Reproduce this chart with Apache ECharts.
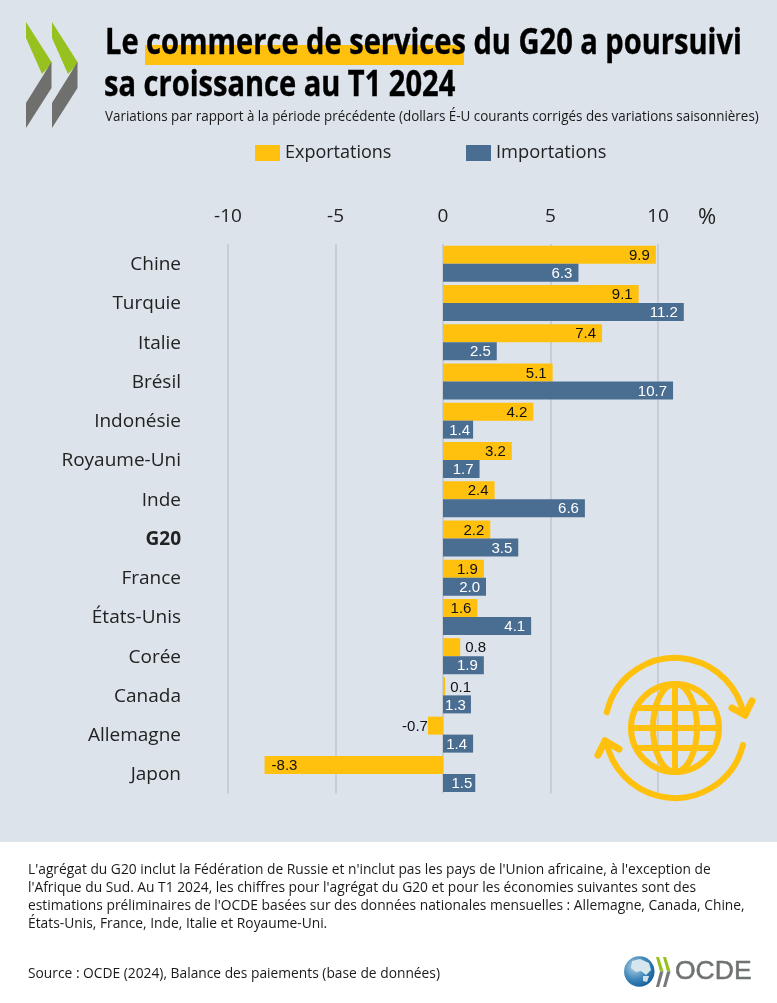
<!DOCTYPE html>
<html><head><meta charset="utf-8">
<style>html,body{margin:0;padding:0;background:#fff}#c{width:777px;height:1003px}</style>
<script src="https://cdn.jsdelivr.net/npm/echarts@6/dist/echarts.min.js"></script>
</head><body><div id="c"></div>
<script>
const categories=['Chine','Turquie','Italie','Brésil','Indonésie','Royaume-Uni','Inde','G20','France','États-Unis','Corée','Canada','Allemagne','Japon'];
const exportsData=[9.9,9.1,7.4,5.1,4.2,3.2,2.4,2.2,1.9,1.6,0.8,0.1,-0.7,-8.3];
const importsData=[6.3,11.2,2.5,10.7,1.4,1.7,6.6,3.5,2.0,4.1,1.9,1.3,1.4,1.5];
const titleLines=['Le commerce de services du G20 a poursuivi','sa croissance au T1 2024'];
const subtitle='Variations par rapport à la période précédente (dollars É-U courants corrigés des variations saisonnières)';
const noteLines=["L'agrégat du G20 inclut la Fédération de Russie et n'inclut pas les pays de l'Union africaine, à l'exception de","l'Afrique du Sud. Au T1 2024, les chiffres pour l'agrégat du G20 et pour les économies suivantes sont des","estimations préliminaires de l'OCDE basées sur des données nationales mensuelles : Allemagne, Canada, Chine,","États-Unis, France, Inde, Italie et Royaume-Uni."];
const sourceText='Source : OCDE (2024), Balance des paiements (base de données)';

const YEL='#FFC00E',BLU='#4A6D92',BG='#DCE3EB';
const F='"Open Sans"';
const chart=echarts.init(document.getElementById('c'),null,{renderer:'canvas'});

function txt(x,y,text,size,opts){opts=opts||{};const st={text:text,fontFamily:opts.f||F,fontSize:size,fontWeight:opts.w||'normal',fill:opts.c||'#1a1a1a',textVerticalAlign:'middle',textAlign:opts.a||'left'};if(opts.stroke){st.stroke=opts.c;st.lineWidth=opts.stroke;}return {type:'text',x:x,y:y,scaleX:opts.sx||1,z:opts.z||10,style:st};}
function poly(pts,fill,z){return {type:'polygon',z:z||5,shape:{points:pts},style:{fill:fill}};}
function arc(cx,cy,r,a0,a1,w){return {type:'arc',z:6,shape:{cx:cx,cy:cy,r:r,startAngle:a0*Math.PI/180,endAngle:a1*Math.PI/180,clockwise:true},style:{stroke:YEL,lineWidth:w,fill:null,lineCap:'round'}};}
function line(x1,y1,x2,y2,w){return {type:'line',z:6,shape:{x1:x1,y1:y1,x2:x2,y2:y2},style:{stroke:YEL,lineWidth:w,lineCap:'round'}};}
const gx=675,gy=729;
const icon=[
 {type:'circle',z:6,shape:{cx:gx,cy:gy-1,r:44},style:{stroke:YEL,lineWidth:6,fill:null}},
 {type:'ellipse',z:6,shape:{cx:gx,cy:gy-1,rx:22,ry:44},style:{stroke:YEL,lineWidth:6,fill:null}},
 line(gx,gy-44,gx,gy+42,6),line(gx-43,gy-1,gx+43,gy-1,6),
 line(gx-37,gy-21,gx+37,gy-21,6),line(gx-37,gy+19,gx+37,gy+19,6),
 arc(gx,gy-1,70,193,349,6),arc(gx,gy-1,70,14,169,6),
 line(732,708,745,715,7),line(745,715,752,701,7),
 line(619,749,605,741,7),line(605,741,598,755,7)
];
const logoGrad=new echarts.graphic.RadialGradient(0.35,0.35,0.75,[{offset:0,color:'#b5d3e6'},{offset:0.55,color:'#3f87b9'},{offset:1,color:'#0f5a96'}]);
const logo=[
 {type:'circle',z:6,shape:{cx:639.3,cy:971.5,r:15.2},style:{fill:logoGrad}},
 poly([[632,961],[640,959],[649,963],[651,970],[646,975],[641,971],[636,972],[631,968]],'#d6e6ef',7),
 poly([[643,976],[649,976],[647,982],[643,981]],'#cfe2ec',7),
 poly([[656,957],[659,957],[663.5,971.5],[660,971.5]],'#96c11f'),
 poly([[663,957],[666,957],[670.5,971.5],[667,971.5]],'#96c11f'),
 poly([[660,971.5],[663.5,971.5],[659,987],[656,987]],'#77787b'),
 poly([[667,971.5],[670.5,971.5],[666,987],[663,987]],'#77787b'),
 txt(675,972,'OCDE',26.5,{f:'"Liberation Sans"',c:'#6f7272',stroke:0.5})
];
function chev(x){return [
 poly([[x,22],[x+25.5,62],[x+25.5,64],[x+16,74],[x,38]],'#96C11F'),
 poly([[x+25.5,62],[x+25.5,88],[x,128],[x,103]],'#6f6f6e')
];}
const graphics=[
 {type:'rect',z:1,shape:{x:145,y:45,width:319,height:20},style:{fill:YEL}},
 txt(105,44,titleLines[0],35,{w:'bold',c:'#000',sx:0.83,z:12,stroke:0.4}),
 txt(104,86,titleLines[1],35,{w:'bold',c:'#000',sx:0.83,z:12,stroke:0.4}),
 txt(105,117,subtitle,14.5,{sx:0.925}),
 txt(698,218,'%',22,{c:'#222'}),
 {type:'rect',z:0,shape:{x:0,y:842,width:777,height:161},style:{fill:'#fff'}},
 txt(28,870,noteLines[0],14,{sx:0.985}),
 txt(28,888,noteLines[1],14,{sx:0.985}),
 txt(28,906,noteLines[2],14,{sx:0.985}),
 txt(28,924,noteLines[3],14,{sx:0.985}),
 txt(28,974,sourceText,14,{sx:0.985})
].concat(chev(26),chev(52),icon,logo);

// per-bar label treatment
const outsideExports={'Corée':{position:'right',distance:5},'Canada':{position:'right',distance:5},'Allemagne':{position:'left',distance:0},'Japon':{position:'insideLeft',distance:7}};
const importInset={'Indonésie':3,'Canada':5,'Japon':3};
const expData=exportsData.map((v,i)=>({value:v,label:outsideExports[categories[i]]||{position:'insideRight',distance:6}}));
const impData=importsData.map((v,i)=>({value:v,label:{position:'insideRight',distance:importInset[categories[i]]||6}}));

chart.setOption({
 animation:false,
 backgroundColor:BG,
 textStyle:{fontFamily:F},
 graphic:{elements:graphics},
 legend:[
  {data:['Exportations'],left:255,top:144,padding:0,itemWidth:25,itemHeight:16,itemGap:3,textStyle:{fontFamily:F,fontSize:18,color:'#222'},icon:'rect'},
  {data:['Importations'],left:466,top:144,padding:0,itemWidth:25,itemHeight:16,itemGap:3,textStyle:{fontFamily:F,fontSize:18.3,color:'#222'},icon:'rect'}
 ],
 grid:{left:228,top:244,width:537.5,height:549.5,containLabel:false},
 xAxis:{type:'value',position:'top',min:-10,max:15,interval:5,
  axisLine:{show:false},axisTick:{show:false},
  axisLabel:{margin:18,fontFamily:F,fontSize:19,color:'#222',showMaxLabel:false},
  splitLine:{show:true,showMaxLine:false,lineStyle:{color:'#C8CED6',width:2}}},
 yAxis:{type:'category',inverse:true,data:categories,
  axisLine:{show:false},axisTick:{show:false},
  axisLabel:{margin:47,align:'right',fontFamily:F,fontSize:19,color:'#222',padding:[2,0,0,0],
   formatter:v=>v==='G20'?'{b|G20}':v,rich:{b:{fontWeight:'bold',fontFamily:F,fontSize:19,color:'#222'}}}},
 series:[
  {name:'Exportations',type:'bar',data:expData,barWidth:18,barGap:0,itemStyle:{color:YEL},
   label:{show:true,offset:[0,1],fontFamily:'"Liberation Sans"',fontSize:15,color:'#111',formatter:p=>p.value.toFixed(1)},z:3},
  {name:'Importations',type:'bar',data:impData,barWidth:18,itemStyle:{color:BLU},
   label:{show:true,offset:[0,1],fontFamily:'"Liberation Sans"',fontSize:15,color:'#fff',formatter:p=>p.value.toFixed(1)},z:3}
 ]
});
</script></body></html>
